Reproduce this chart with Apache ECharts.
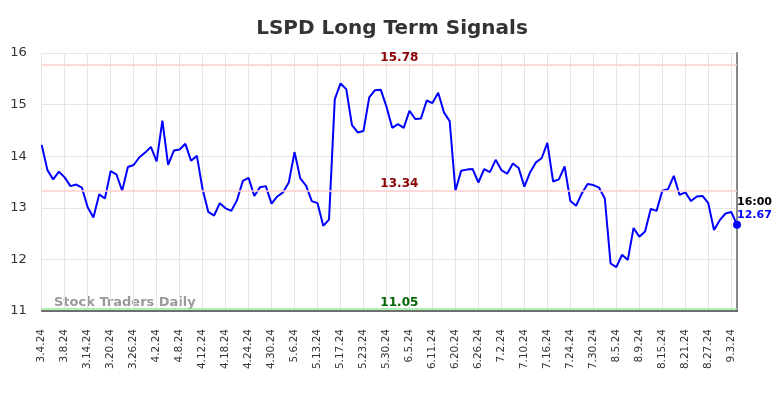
<!DOCTYPE html>
<html><head><meta charset="utf-8">
<script src="https://cdn.jsdelivr.net/npm/echarts@6/dist/echarts.min.js"></script>
<style>html,body{margin:0;padding:0;background:#fff}#c{width:784px;height:398px}</style>
</head><body><div id="c"></div>
<script>
const dates = [
'3.4.24','3.5.24','3.6.24','3.7.24','3.8.24','3.11.24','3.12.24','3.13.24',
'3.14.24','3.15.24','3.18.24','3.19.24','3.20.24','3.21.24','3.22.24','3.25.24',
'3.26.24','3.27.24','3.28.24','4.1.24','4.2.24','4.3.24','4.4.24','4.5.24',
'4.8.24','4.9.24','4.10.24','4.11.24','4.12.24','4.15.24','4.16.24','4.17.24',
'4.18.24','4.19.24','4.22.24','4.23.24','4.24.24','4.25.24','4.26.24','4.29.24',
'4.30.24','5.1.24','5.2.24','5.3.24','5.6.24','5.7.24','5.8.24','5.9.24',
'5.13.24','5.14.24','5.15.24','5.16.24','5.17.24','5.20.24','5.21.24','5.22.24',
'5.23.24','5.24.24','5.28.24','5.29.24','5.30.24','5.31.24','6.3.24','6.4.24',
'6.5.24','6.6.24','6.7.24','6.10.24','6.11.24','6.12.24','6.13.24','6.14.24',
'6.20.24','6.21.24','6.24.24','6.25.24','6.26.24','6.27.24','6.28.24','7.1.24',
'7.2.24','7.3.24','7.5.24','7.8.24','7.10.24','7.11.24','7.12.24','7.15.24',
'7.16.24','7.17.24','7.18.24','7.19.24','7.24.24','7.25.24','7.26.24','7.29.24',
'7.30.24','7.31.24','8.1.24','8.2.24','8.5.24','8.6.24','8.7.24','8.8.24',
'8.9.24','8.12.24','8.13.24','8.14.24','8.15.24','8.16.24','8.19.24','8.20.24',
'8.21.24','8.22.24','8.23.24','8.26.24','8.27.24','8.28.24','8.29.24','8.30.24',
'9.3.24','9.4.24'
];
const prices = [
14.22,13.73,13.55,13.70,13.59,13.42,13.45,13.39,
13.01,12.81,13.26,13.18,13.71,13.65,13.33,13.79,
13.83,13.98,14.07,14.18,13.90,14.69,13.83,14.11,
14.13,14.24,13.91,14.01,13.36,12.92,12.85,13.09,
12.99,12.94,13.15,13.52,13.58,13.23,13.40,13.42,
13.08,13.22,13.30,13.49,14.08,13.57,13.43,13.13,
13.09,12.65,12.77,15.10,15.41,15.30,14.60,14.46,
14.49,15.14,15.28,15.29,14.96,14.55,14.62,14.55,
14.88,14.72,14.73,15.08,15.03,15.23,14.85,14.68,
13.33,13.72,13.74,13.75,13.49,13.75,13.69,13.93,
13.73,13.66,13.86,13.77,13.41,13.69,13.88,13.96,
14.26,13.51,13.55,13.80,13.13,13.04,13.28,13.46,
13.44,13.39,13.18,11.92,11.85,12.09,11.99,12.61,
12.44,12.54,12.98,12.94,13.33,13.36,13.62,13.25,
13.30,13.13,13.22,13.23,13.09,12.57,12.76,12.89,
12.92,12.67
];
const levelValues = [15.78, 13.34, 11.05];
const levelLineColors = ['#ffcccc', '#ffcccc', '#90ee90'];
const levelTextColors = ['#8b0000', '#8b0000', '#006400'];
const yTicks = [11, 12, 13, 14, 15, 16];
const lastTime = '16:00';

const chart = echarts.init(document.getElementById('c'), null, {renderer: 'canvas'});
const lastIdx = prices.length - 1;
const font = 'DejaVu Sans';

chart.setOption({
  animation: false,
  title: {
    text: 'LSPD Long Term Signals', left: 'center', top: 14,
    textStyle: {fontFamily: font, fontSize: 20, fontWeight: 'bold', color: '#333'}
  },
  grid: {left: 41.7, right: 47, top: 53, bottom: 87},
  xAxis: {
    type: 'category', data: dates, boundaryGap: false,
    axisLine: {show: true, lineStyle: {color: '#444', width: 1.5}},
    axisTick: {show: false},
    axisLabel: {
      interval: function (i) { return i % 4 === 0; },
      rotate: 90, margin: 18, fontFamily: font, fontSize: 10.5, color: '#333'
    },
    splitLine: {show: true, interval: function (i) { return i % 4 === 0; }, lineStyle: {color: '#e6e6e6', width: 1}}
  },
  yAxis: [{
    type: 'value', min: yTicks[0], max: yTicks[yTicks.length - 1], interval: 1,
    axisLine: {show: false}, axisTick: {show: false},
    axisLabel: {margin: 15, fontFamily: font, fontSize: 13, color: '#333'},
    splitLine: {lineStyle: {color: '#e6e6e6', width: 1}}
  }, {
    type: 'value', min: yTicks[0], max: yTicks[yTicks.length - 1], position: 'right',
    axisLine: {show: true, lineStyle: {color: '#888', width: 2}},
    axisTick: {show: false}, axisLabel: {show: false}, splitLine: {show: false}
  }],
  graphic: [{
    type: 'text', left: 54, top: 296,
    style: {text: 'Stock Traders Daily', fontFamily: font, fontSize: 13, fontWeight: 'bold', fill: '#999'}
  }],
  series: [{
    type: 'line', data: prices, showSymbol: false,
    lineStyle: {color: '#0000ff', width: 2}, itemStyle: {color: '#0000ff'},
    markLine: {
      silent: true, symbol: 'none',
      data: levelValues.map((v, i) => ({
        yAxis: v,
        lineStyle: {color: levelLineColors[i], width: 1.5, type: 'solid'},
        label: {
          show: true, position: 'insideMiddleTop', distance: 0,
          formatter: v.toFixed(2), color: levelTextColors[i],
          fontFamily: font, fontSize: 12, fontWeight: 'bold', padding: [0, 0, 0, 20]
        }
      }))
    },
    markPoint: {
      silent: true, symbol: 'circle', symbolSize: 8,
      itemStyle: {color: '#0000ff'},
      data: [{
        coord: [lastIdx, prices[lastIdx]],
        label: {
          show: true, position: [4, -25],
          formatter: '{t|' + lastTime + '}\n{v|' + prices[lastIdx].toFixed(2) + '}',
          rich: {
            t: {fontFamily: font, fontSize: 11, fontWeight: 'bold', color: '#000', lineHeight: 13},
            v: {fontFamily: font, fontSize: 11, fontWeight: 'bold', color: '#0000ff', lineHeight: 13}
          }
        }
      }]
    }
  }]
});
</script>
</body></html>
